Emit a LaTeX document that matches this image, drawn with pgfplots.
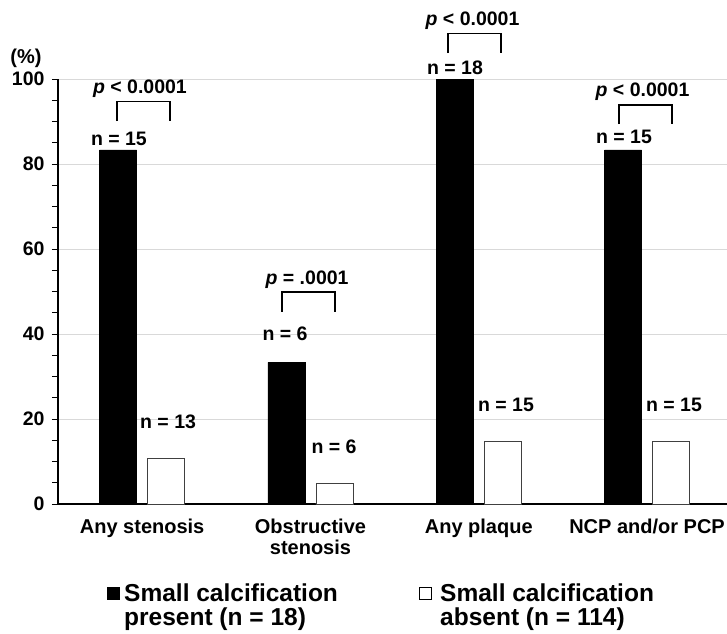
\documentclass[border=0pt]{standalone}
\usepackage{fontspec}
\setmainfont{Liberation Sans}
\usepackage{pgfplots}
\pgfplotsset{compat=1.18}
\newcommand{\lblfont}{\fontsize{19.5}{20}\selectfont\bfseries}
\newcommand{\legfont}{\fontsize{24.5}{22}\selectfont\bfseries}
\begin{document}
\begin{tikzpicture}
\begin{axis}[
  scale only axis, width=669pt, height=425pt,
  xmin=0, xmax=3.975, ymin=0, ymax=100,
  axis x line*=bottom, axis y line*=left,
  axis line style={black, line width=1.2pt, -},
  xtick={0.5,1.5,2.5,3.5},
  xticklabels={Any stenosis, {Obstructive\\stenosis}, Any plaque, NCP and/or PCP},
  x tick label style={align=center, yshift=-5pt, font=\fontsize{20}{21}\selectfont\bfseries},
  major x tick style={draw=none},
  ytick={0,20,...,100},
  minor ytick={5,10,...,95},
  tick align=outside,
  major tick length=6pt, minor tick length=6pt,
  y tick style={black, line width=1pt},
  ymajorgrids, major grid style={black!15, line width=0.8pt},
  y tick label style={font=\lblfont, xshift=-4pt},
  /pgf/number format/assume math mode=true,
  clip=false,
]
\addplot[ybar, bar width=37pt, bar shift=-24pt, fill=black, draw=black] coordinates {(0.5,83.3) (1.5,33.3) (2.5,100) (3.5,83.3)};
\addplot[ybar, bar width=37pt, bar shift=24pt, fill=white, draw=black!75, line width=0.8pt] coordinates {(0.5,10.8) (1.5,4.8) (2.5,14.7) (3.5,14.7)};
% brackets
\addplot[black, line width=1.2pt, mark=none] coordinates {(0.351,90.1) (0.351,94.8) (0.665,94.8) (0.665,90.1)};
\addplot[black, line width=1.2pt, mark=none] coordinates {(1.331,45.2) (1.331,49.9) (1.646,49.9) (1.646,45.2)};
\addplot[black, line width=1.2pt, mark=none] coordinates {(2.317,106.1) (2.317,110.8) (2.632,110.8) (2.632,106.1)};
\addplot[black, line width=1.2pt, mark=none] coordinates {(3.333,89.4) (3.333,93.9) (3.648,93.9) (3.648,89.4)};
% n labels
\node[anchor=base, font=\lblfont, inner sep=0pt] at (axis cs:0.362,84.3) {n = 15};
\node[anchor=base, font=\lblfont, inner sep=0pt] at (axis cs:0.654,17.7) {n = 13};
\node[anchor=base, font=\lblfont, inner sep=0pt] at (axis cs:1.349,38.4) {n = 6};
\node[anchor=base, font=\lblfont, inner sep=0pt] at (axis cs:1.640,12.0) {n = 6};
\node[anchor=base, font=\lblfont, inner sep=0pt] at (axis cs:2.359,101.0) {n = 18};
\node[anchor=base, font=\lblfont, inner sep=0pt] at (axis cs:2.662,21.7) {n = 15};
\node[anchor=base, font=\lblfont, inner sep=0pt] at (axis cs:3.363,84.8) {n = 15};
\node[anchor=base, font=\lblfont, inner sep=0pt] at (axis cs:3.660,21.7) {n = 15};
% p labels
\node[anchor=base, font=\lblfont, inner sep=0pt] at (axis cs:0.487,96.5) {\itshape p\upshape{} < 0.0001};
\node[anchor=base, font=\lblfont, inner sep=0pt] at (axis cs:1.480,51.7) {\itshape p\upshape{} = .0001};
\node[anchor=base, font=\lblfont, inner sep=0pt] at (axis cs:2.463,112.7) {\itshape p\upshape{} < 0.0001};
\node[anchor=base, font=\lblfont, inner sep=0pt] at (axis cs:3.473,95.8) {\itshape p\upshape{} < 0.0001};
\end{axis}
% y unit
\node[font=\fontsize{20}{20}\selectfont\bfseries, inner sep=0pt] at (-32pt,446pt) {(\%)};
% legend
\fill[black] (48.5pt,-96pt) rectangle (61.5pt,-83pt);
\node[anchor=base west, font=\legfont, inner sep=0pt] at (66pt,-97pt) {Small calcification};
\node[anchor=base west, font=\legfont, inner sep=0pt] at (66pt,-121.5pt) {present (n = 18)};
\draw[black, line width=0.8pt, fill=white] (361pt,-95.5pt) rectangle (373pt,-83.5pt);
\node[anchor=base west, font=\legfont, inner sep=0pt] at (382pt,-97pt) {Small calcification};
\node[anchor=base west, font=\legfont, inner sep=0pt] at (382pt,-121.5pt) {absent (n = 114)};
\pgfresetboundingbox
\path[use as bounding box] (-58pt,-129pt) rectangle (669pt,504pt);
\end{tikzpicture}
\end{document}
